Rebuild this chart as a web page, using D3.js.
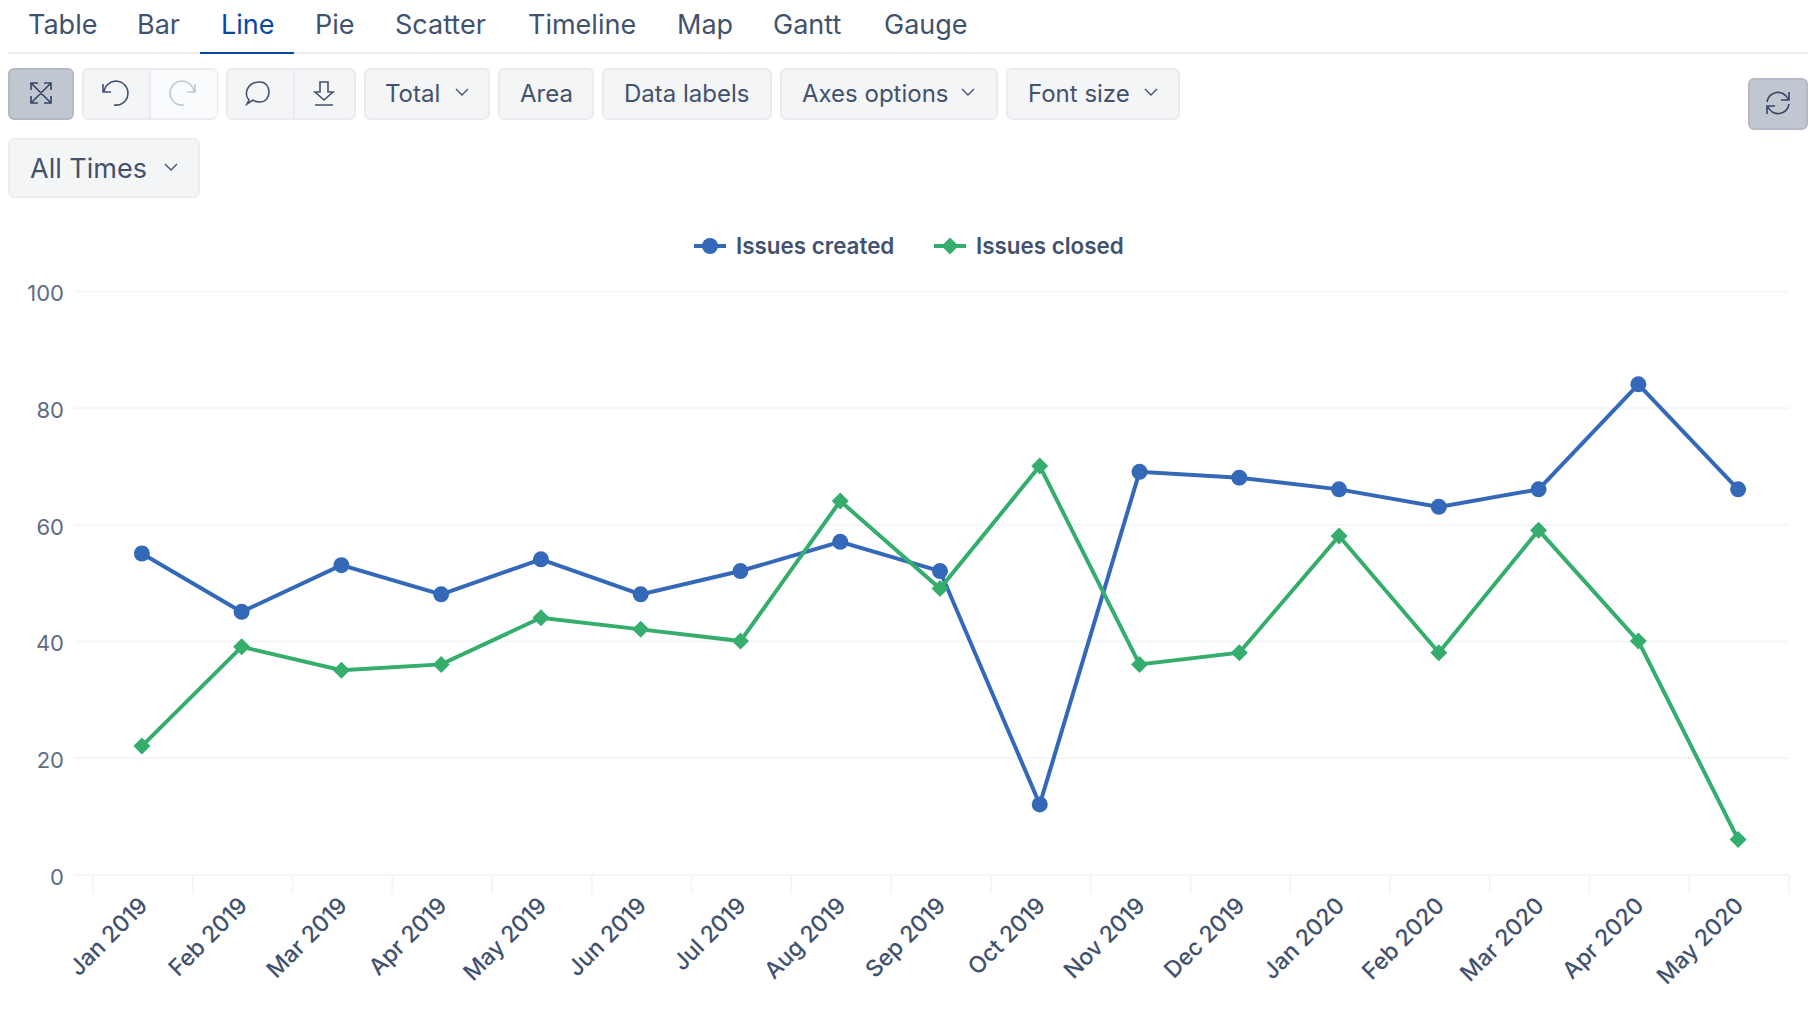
<!DOCTYPE html>
<html lang="en">
<head>
<meta charset="UTF-8">
<title>Issues created vs closed</title>
<script src="https://d3js.org/d3.v7.min.js"></script>
<style>
    body { margin: 0; background: #fff; overflow: hidden; }
    svg { display: block; font-family: Inter, sans-serif; }
</style>
</head>
<body>
<svg id="chart" width="1820" height="1020"></svg>
<script>
// Chart data
const months = ["Jan 2019", "Feb 2019", "Mar 2019", "Apr 2019", "May 2019", "Jun 2019", "Jul 2019", "Aug 2019", "Sep 2019",
    "Oct 2019", "Nov 2019", "Dec 2019", "Jan 2020", "Feb 2020", "Mar 2020", "Apr 2020", "May 2020"];
const issuesCreated = [55, 45, 53, 48, 54, 48, 52, 57, 52, 12, 69, 68, 66, 63, 66, 84, 66];
const issuesClosed = [22, 39, 35, 36, 44, 42, 40, 64, 49, 70, 36, 38, 58, 38, 59, 40, 6];
const yTicks = [0, 20, 40, 60, 80, 100];

// Page chrome labels
const tabNames = ["Table", "Bar", "Line", "Pie", "Scatter", "Timeline", "Map", "Gantt", "Gauge"];
const tabStarts = [28, 137, 221, 315, 395, 528, 677, 773, 884];
const activeTab = "Line";

const BLUE = "#3468b8";
const GREEN = "#34ad6d";
const TEXT = "#42526e";

const svg = d3.select("#chart");

// Tabs
const tabs = svg.append("g");
tabs.selectAll("text")
    .data(tabNames)
    .join("text")
    .attr("x", (d, i) => tabStarts[i])
    .attr("y", 34)
    .attr("font-size", 27)
    .attr("fill", d => d === activeTab ? "#0747a6" : TEXT)
    .text(d => d);
tabs.append("rect").attr("x", 8).attr("y", 52).attr("width", 1800).attr("height", 2).attr("fill", "#ebecf0");
tabs.append("rect").attr("x", 200).attr("y", 52).attr("width", 94).attr("height", 2).attr("fill", "#0747a6");

// Toolbar
function button(x0, x1, y0, y1, fill, border) {
    svg.append("rect")
        .attr("x", x0 + 1).attr("y", y0 + 1)
        .attr("width", x1 - x0 - 2).attr("height", y1 - y0 - 2)
        .attr("rx", 5)
        .attr("fill", fill || "#f4f5f7")
        .attr("stroke", border || "#ebecf0")
        .attr("stroke-width", 2);
}

function label(text, x, y, size) {
    svg.append("text").attr("x", x).attr("y", y).attr("font-size", size || 24).attr("fill", TEXT).text(text);
}

function icon(d, x, y, color, width) {
    svg.append("path")
        .attr("transform", `translate(${x},${y})`)
        .attr("d", d)
        .attr("fill", "none")
        .attr("stroke", color || TEXT)
        .attr("stroke-width", width || 1.6);
}

function chevron(x, y) {
    icon("M-6,-3L0,3L6,-3", x, y, TEXT, 1.4);
}

button(8, 74, 68, 120, "#c1c7d0", "#b3bac5");
icon("M-10,-10L10,10M10,-10L-10,10M-10,-3V-10H-3M3,-10H10V-3M-10,3V10H-3M3,10H10V3", 41, 93, "#344563");

button(82, 218, 68, 120);
svg.append("rect").attr("x", 150).attr("y", 70).attr("width", 67).attr("height", 48).attr("rx", 4).attr("fill", "#fafbfc");
svg.append("rect").attr("x", 149).attr("y", 69).attr("width", 2).attr("height", 50).attr("fill", "#ebecf0");
icon("M-12,-9V-1H-4M-11,-1A12,12 0 1 1 -1,12", 115, 93);
icon("M12,-9V-1H4M11,-1A12,12 0 1 0 1,12", 183, 93, "#c1c7d0");

button(226, 356, 68, 120);
svg.append("rect").attr("x", 293).attr("y", 69).attr("width", 2).attr("height", 50).attr("fill", "#ebecf0");
icon("M-10,7C-15,2 -13,-11 1,-11C13,-11 13,9 1,9C-3,9 -5,8 -6,7L-12,11Z", 259, 93);
icon("M-4,-11H4V-1H9L0,7L-9,-1H-4ZM-9,12H9", 324, 93);

button(364, 490, 68, 120);
label("Total", 385, 102);
chevron(462, 92);
button(498, 594, 68, 120);
label("Area", 520, 102);
button(602, 772, 68, 120);
label("Data labels", 624, 102);
button(780, 998, 68, 120);
label("Axes options", 802, 102);
chevron(968, 92);
button(1006, 1180, 68, 120);
label("Font size", 1028, 102);
chevron(1151, 92);

button(1748, 1808, 78, 130, "#c1c7d0", "#b3bac5");
icon("M-11,-1A11,11 0 0 1 10,-4M11,1A11,11 0 0 1 -10,4M11,-11V-3H3M-11,11V3H-3", 1778, 103, "#344563");

button(8, 200, 138, 198);
label("All Times", 30, 178, 27);
chevron(171, 167);

// Scales
const x = d3.scaleBand().domain(months).range([92, 1788]);
const y = d3.scaleLinear().domain([0, 100]).range([874.4, 291]);
const center = d => x(d) + x.bandwidth() / 2;

// Y axis, gridlines come from the ticks
const yAxis = svg.append("g")
    .attr("transform", "translate(74,0)")
    .call(d3.axisLeft(y).tickValues(yTicks).tickSize(-1715).tickPadding(10));
yAxis.select(".domain").remove();
yAxis.selectAll("line").attr("stroke", "#f4f5f7").attr("stroke-width", 2);
yAxis.selectAll("text")
    .attr("font-family", "Inter, sans-serif")
    .attr("font-size", 22)
    .attr("fill", "#5e6c84")
    .attr("dy", "0.45em");

// X axis, ticks sit on the band edges so they get drawn separately
const xAxis = svg.append("g")
    .attr("transform", "translate(0,875)")
    .call(d3.axisBottom(x).tickSize(0).tickPadding(0));
xAxis.select(".domain").remove();
xAxis.selectAll("text")
    .attr("font-family", "Inter, sans-serif")
    .attr("font-size", 23)
    .attr("font-weight", 500)
    .attr("fill", TEXT)
    .attr("text-anchor", "end")
    .attr("dy", 0)
    .attr("transform", "translate(7,32) rotate(-45)");
svg.append("g").selectAll("line")
    .data(months.map(m => x(m)).concat(x.range()[1]))
    .join("line")
    .attr("x1", d => d + 1).attr("x2", d => d + 1)
    .attr("y1", 875).attr("y2", 894)
    .attr("stroke", "#f4f5f7")
    .attr("stroke-width", 2);

// Series
const line = d3.line().x((d, i) => center(months[i])).y(d => y(d));
const diamond = "M0,-8.5L8.5,0L0,8.5L-8.5,0Z";

svg.append("path").datum(issuesCreated)
    .attr("d", line).attr("fill", "none").attr("stroke", BLUE).attr("stroke-width", 4);
svg.append("path").datum(issuesClosed)
    .attr("d", line).attr("fill", "none").attr("stroke", GREEN).attr("stroke-width", 4);

svg.append("g").selectAll("circle")
    .data(issuesCreated)
    .join("circle")
    .attr("cx", (d, i) => center(months[i]))
    .attr("cy", d => y(d))
    .attr("r", 8)
    .attr("fill", BLUE);
svg.append("g").selectAll("path")
    .data(issuesClosed)
    .join("path")
    .attr("transform", (d, i) => `translate(${center(months[i])},${y(d)})`)
    .attr("d", diamond)
    .attr("fill", GREEN);

// Legend
const legend = svg.append("g");
legend.append("line").attr("x1", 694).attr("x2", 726).attr("y1", 246).attr("y2", 246).attr("stroke", BLUE).attr("stroke-width", 4);
legend.append("circle").attr("cx", 710).attr("cy", 246).attr("r", 8).attr("fill", BLUE);
legend.append("line").attr("x1", 934).attr("x2", 966).attr("y1", 246).attr("y2", 246).attr("stroke", GREEN).attr("stroke-width", 4);
legend.append("path").attr("transform", "translate(950,246)").attr("d", diamond).attr("fill", GREEN);
legend.append("text").attr("x", 736).attr("y", 254).attr("font-size", 22.4).attr("font-weight", 600).attr("fill", TEXT).text("Issues created");
legend.append("text").attr("x", 976).attr("y", 254).attr("font-size", 22.4).attr("font-weight", 600).attr("fill", TEXT).text("Issues closed");
</script>
</body>
</html>
